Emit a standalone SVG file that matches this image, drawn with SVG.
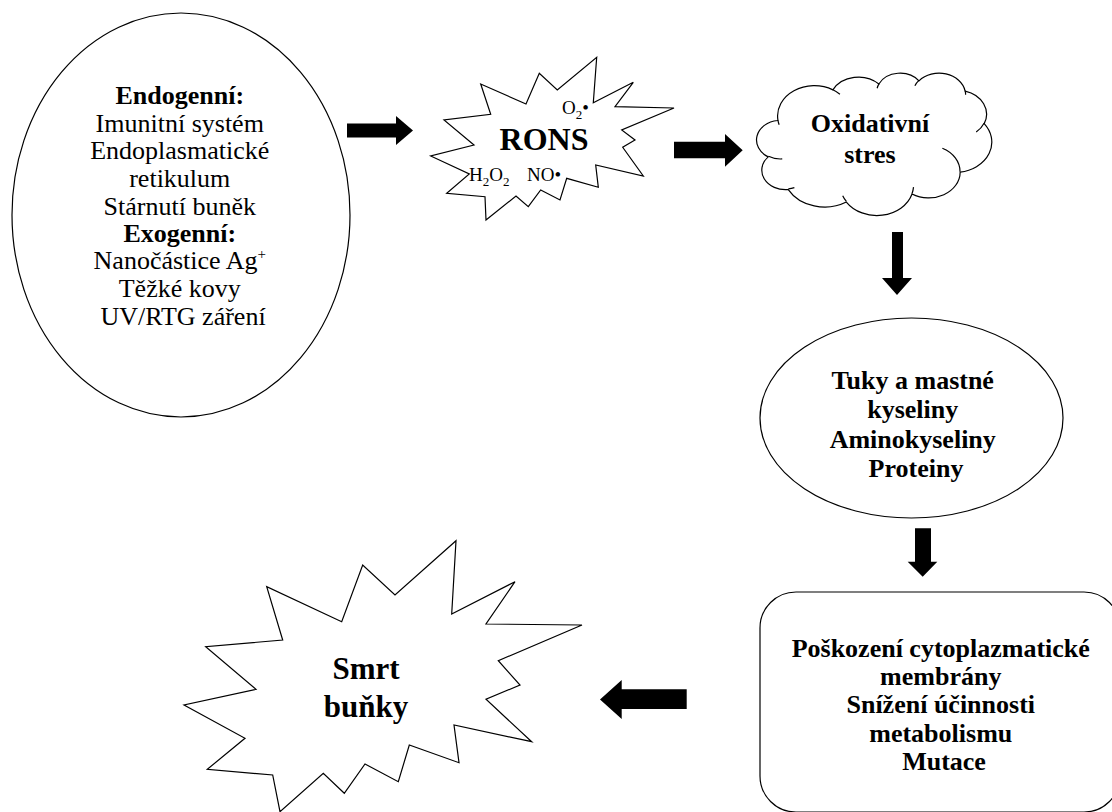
<svg xmlns="http://www.w3.org/2000/svg" width="1112" height="812" viewBox="0 0 1112 812">
<style>
.shape{fill:#fff;stroke:#000;stroke-width:1.2;}
.inner{fill:none;stroke:#000;stroke-width:1.2;}
.arrow{fill:#000;stroke:none;}
text{font-family:"Liberation Serif","Times New Roman",serif;fill:#000;text-anchor:middle;}
.reg{font-size:26px;}
.b{font-size:26px;font-weight:bold;}
</style>
<rect width="1112" height="812" fill="#fff"/>
<g id="sources">
<ellipse class="shape" cx="181" cy="215" rx="169" ry="202"/>
<text class="reg">
<tspan x="183" y="104" font-weight="bold">Endogenní:</tspan>
<tspan x="183" y="131.7">Imunitní systém</tspan>
<tspan x="183" y="159.3">Endoplasmatické</tspan>
<tspan x="183" y="187.3">retikulum</tspan>
<tspan x="183" y="215">Stárnutí buněk</tspan>
<tspan x="183" y="241.7" font-weight="bold">Exogenní:</tspan>
<tspan x="183" y="269.3">Nanočástice Ag<tspan font-size="15" dy="-10">+</tspan></tspan>
<tspan x="183" y="296.7">Těžké kovy</tspan>
<tspan x="183" y="325">UV/RTG záření</tspan>
</text>
</g>
<g id="rons">
<polygon class="shape" points="596.7,57.3 593.3,102.7 633.3,82.3 615,106.7 674,108 621.7,130 635,140 622.7,147.3 643.3,176 595.7,165 598.3,187.3 566.7,178.3 560,200 540.7,190 528.3,206.7 516,196 486,220 485,196.7 446.7,193.3 469.3,174 430.7,156 474,145 444,120 490.7,114.3 480.7,84 526,104 539.3,73.3 557.3,90"/>
<text x="544" y="150" font-size="32" font-weight="bold">RONS</text>
<text x="562" y="114" font-size="19" style="text-anchor:start">O<tspan font-size="13" dy="5">2</tspan><tspan dy="-5">•</tspan></text>
<text x="469" y="180.7" font-size="19" style="text-anchor:start">H<tspan font-size="13" dy="5">2</tspan><tspan dy="-5">O</tspan><tspan font-size="13" dy="5">2</tspan></text>
<text x="527" y="180.7" font-size="19" style="text-anchor:start">NO•</text>
</g>
<g id="stress">
<g transform="translate(756.7,72.7) scale(0.0054398,0.003294)">
<path class="shape" vector-effect="non-scaling-stroke" d="M3900 14370 A6753 9190 0 0 1 14005 5202 A5333 7267 0 0 1 22456 3432 A4365 5945 0 0 1 29833 2481 A4857 6595 0 0 1 38318 5577 A5333 7273 0 0 1 41819 15461 A6775 9220 0 0 1 37403 30202 A5785 7867 0 0 1 28555 36812 A6752 9215 0 0 1 16480 39265 A7720 10543 0 0 1 5805 35472 A4360 5918 0 0 1 2114 25551 A4345 5945 0 0 1 3864 14508 Z"/>
<path class="inner" vector-effect="non-scaling-stroke" d="M4693 26177 A4345 5945 0 0 1 2159 25380 M6928 34899 A4360 5918 0 0 1 5819 35281 M16478 39090 A6752 9215 0 0 1 15810 37348 M28827 34751 A6752 9215 0 0 1 28560 36660 M34129 22954 A5785 7867 0 0 1 37380 30089 M41798 15354 A5333 7273 0 0 1 40349 18031 M38324 5426 A4857 6595 0 0 1 38400 6690 M29078 3952 A4857 6595 0 0 1 29820 2339 M22141 4720 A4365 5945 0 0 1 22500 3330 M14000 5192 A6753 9190 0 0 1 15299 6540 M4127 15789 A6753 9190 0 0 1 3900 14370"/>
</g>
<text class="b" x="870" y="132">Oxidativní</text>
<text class="b" x="870" y="163">stres</text>
</g>
<g id="targets">
<ellipse class="shape" cx="911.5" cy="418" rx="151.5" ry="100"/>
<text class="b" font-size="25.5">
<tspan x="916" y="389">Tuky a mastné</tspan>
<tspan x="916" y="418">kyseliny</tspan>
<tspan x="916" y="448">Aminokyseliny</tspan>
<tspan x="916" y="477">Proteiny</tspan>
</text>
</g>
<g id="damage">
<rect class="shape" x="760" y="592" width="360" height="220" rx="36" ry="36"/>
<text class="b">
<tspan x="944" y="657">Poškození cytoplazmatické</tspan>
<tspan x="944" y="685">membrány</tspan>
<tspan x="944" y="713">Snížení účinnosti</tspan>
<tspan x="944" y="742">metabolismu</tspan>
<tspan x="944" y="770">Mutace</tspan>
</text>
</g>
<g id="death">
<polygon class="shape" points="456,540.7 451.7,614 515,581.7 486,624 582,625 498.3,660.7 520,685 486,699.3 531.7,741.7 454,725 459,762.7 409.3,745 398.3,781.7 365,764 344.3,793.3 323.3,773.3 280,811.7 272.7,775 207.3,769.3 245,738.3 184,705 256,689.3 205.7,646.7 282.7,640 266.7,586.7 341.7,621.7 362.7,565 395,595"/>
<text x="366" y="679" font-size="31" font-weight="bold">Smrt</text>
<text x="366" y="717" font-size="31" font-weight="bold">buňky</text>
</g>
<g id="connectors">
<polygon class="arrow" points="347,123.5 396,123.5 396,116 413,130.5 396,145 396,137.5 347,137.5"/>
<polygon class="arrow" points="674,141.7 725,141.7 725,134 742.7,150.3 725,166.7 725,158.3 674,158.3"/>
<polygon class="arrow" points="892,232 903,232 903,278 912,278 897,295 882,278 892,278"/>
<polygon class="arrow" points="915,528.3 931,528.3 931,561.7 937.3,561.7 922.7,576.7 907.7,561.7 915,561.7"/>
<polygon class="arrow" points="686.7,689.3 621.7,689.3 621.7,680 600,699.5 621.7,719 621.7,709 686.7,709"/>
</g>
</svg>
